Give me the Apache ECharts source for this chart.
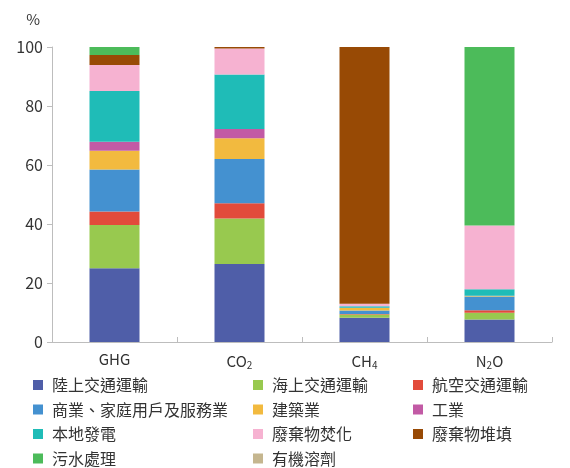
<!DOCTYPE html>
<html>
<head>
<meta charset="utf-8">
<script src="https://cdn.jsdelivr.net/npm/echarts@6/dist/echarts.min.js"></script>
<style>
  html, body { margin: 0; padding: 0; background: #fff; }
  #chart { width: 570px; height: 468px; }
</style>
</head>
<body>
<div id="chart"></div>
<script>
// Gases shown on the x axis
const gases = ['GHG', 'CO2', 'CH4', 'N2O'];

// Share of each source in each gas (%), order: GHG, CO2, CH4, N2O
const landTransport   = [25.0, 26.4,  8.2,  7.6];
const marineTransport = [14.7, 15.5,  1.1,  2.3];
const aviation        = [ 4.5,  5.1,  0.2,  0.9];
const commercialHome  = [14.3, 15.0,  1.2,  4.6];
const construction    = [ 6.3,  7.1,  0.8,  0.2];
const industry        = [ 3.1,  3.1,  0.1,  0.1];
const powerGen        = [17.2, 18.5,  0.5,  2.2];
const incineration    = [ 8.8,  8.8,  0.9, 21.6];
const landfill        = [ 3.4,  0.5, 87.0,  0.0];
const sewage          = [ 2.7,  0.0,  0.0, 60.5];
const solvents        = [ 0.0,  0.0,  0.0,  0.0];

const yTicks = [0, 20, 40, 60, 80, 100];

const sources = [
  { name: '陸上交通運輸', data: landTransport, color: '#4f5ea8' },
  { name: '海上交通運輸', data: marineTransport, color: '#98c94f' },
  { name: '航空交通運輸', data: aviation, color: '#e24b3b' },
  { name: '商業、家庭用戶及服務業', data: commercialHome, color: '#4491d0' },
  { name: '建築業', data: construction, color: '#f2ba3f' },
  { name: '工業', data: industry, color: '#c25aa5' },
  { name: '本地發電', data: powerGen, color: '#1fbcb7' },
  { name: '廢棄物焚化', data: incineration, color: '#f6b2d1' },
  { name: '廢棄物堆填', data: landfill, color: '#984a05' },
  { name: '污水處理', data: sewage, color: '#4cbb5a' },
  { name: '有機溶劑', data: solvents, color: '#c5b68f' }
];

const font = '"Noto Sans CJK TC", "Noto Sans", sans-serif';
const textColor = '#333';
const axisColor = '#bdbdbd';

const legendCommon = {
  orient: 'vertical',
  top: 377,
  height: 91,
  padding: 0,
  itemWidth: 10,
  itemHeight: 10,
  itemGap: 8.5,
  icon: 'rect',
  selectedMode: false,
  textStyle: { fontFamily: font, fontSize: 16, color: textColor, padding: [0, 0, 0, 4] }
};

const chart = echarts.init(document.getElementById('chart'), null, { renderer: 'canvas' });

chart.setOption({
  animation: false,
  backgroundColor: '#fff',
  grid: { left: 52, right: 18, top: 47, bottom: 126, containLabel: false },
  legend: [
    Object.assign({}, legendCommon, { left: 33, data: ['陸上交通運輸', '商業、家庭用戶及服務業', '本地發電', '污水處理'] }),
    Object.assign({}, legendCommon, { left: 253, data: ['海上交通運輸', '建築業', '廢棄物焚化', '有機溶劑'] }),
    Object.assign({}, legendCommon, { left: 413, data: ['航空交通運輸', '工業', '廢棄物堆填'] })
  ],
  xAxis: {
    type: 'category',
    data: gases,
    axisLine: { lineStyle: { color: axisColor, width: 1 } },
    axisTick: { show: true, inside: true, length: 5, lineStyle: { color: axisColor } },
    axisLabel: {
      interval: 0,
      margin: 10,
      fontFamily: font,
      fontSize: 15,
      color: textColor,
      formatter: function (v) {
        const m = v.match(/^([A-Z]+)(\d)(.*)$/);
        if (v === 'GHG' || !m) return '{n|' + v + '}';
        return '{n|' + m[1] + '}{s|' + m[2] + '}' + (m[3] ? '{n|' + m[3] + '}' : '');
      },
      rich: {
        n: { fontFamily: font, fontSize: 15, color: textColor },
        s: { fontFamily: font, fontSize: 10, color: textColor, padding: [8, 0, 0, 0] }
      }
    }
  },
  yAxis: {
    type: 'value',
    min: yTicks[0],
    max: yTicks[yTicks.length - 1],
    interval: 20,
    name: '%',
    nameLocation: 'end',
    nameGap: 20,
    nameTextStyle: { fontFamily: font, fontSize: 15, color: textColor, align: 'right', padding: [0, 12, 0, 0] },
    axisLine: { show: true, lineStyle: { color: axisColor, width: 1 } },
    axisTick: { show: true, length: 5, lineStyle: { color: axisColor } },
    splitLine: { show: false },
    axisLabel: { margin: 9, fontFamily: font, fontSize: 16, color: textColor }
  },
  series: sources.map(function (s) {
    return {
      name: s.name,
      type: 'bar',
      stack: 'total',
      barWidth: 50,
      data: s.data,
      itemStyle: { color: s.color },
      emphasis: { disabled: true }
    };
  })
});
</script>
</body>
</html>
